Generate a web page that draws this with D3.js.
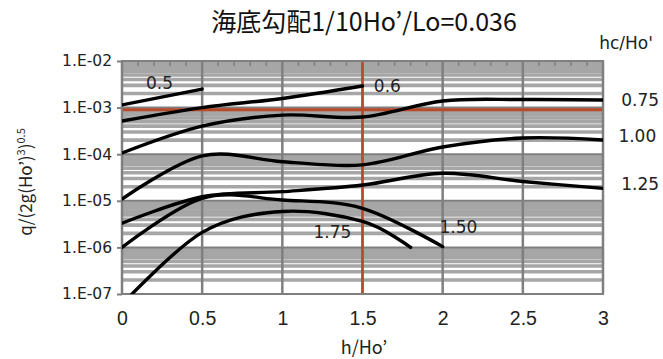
<!DOCTYPE html>
<html>
<head>
<meta charset="utf-8">
<script src="https://cdn.jsdelivr.net/npm/d3@7"></script>
<style>
  body { margin: 0; background: #fff; }
  svg { display: block; }
</style>
</head>
<body>
<svg id="MyGraph" width="663" height="359"></svg>
<script>
// x ticks (h/Ho') and y ticks (log scale)
var xTicks = [0, 0.5, 1, 1.5, 2, 2.5, 3];
var yTicks = [1e-2, 1e-3, 1e-4, 1e-5, 1e-6, 1e-7];
var yTickLabels = ["1.E-02", "1.E-03", "1.E-04", "1.E-05", "1.E-06", "1.E-07"];

// one array per hc/Ho' curve : [h/Ho', q/(2g(Ho')^3)^0.5]
var hc050 = [[0, 1.14e-3], [0.5, 2.5e-3]];
var hc060 = [[0, 5.15e-4], [0.5, 1.0e-3], [1, 1.57e-3], [1.5, 2.9e-3]];
var hc075 = [[0, 1.06e-4], [0.5, 4.0e-4], [1, 6.9e-4], [1.5, 6.3e-4], [2, 1.39e-3], [2.5, 1.49e-3], [3, 1.46e-3]];
var hc100 = [[0, 1.09e-5], [0.5, 9.2e-5], [1, 6.9e-5], [1.5, 5.9e-5], [2, 1.43e-4], [2.5, 2.23e-4], [3, 2.02e-4]];
var hc125 = [[0, 3.3e-6], [0.5, 1.22e-5], [1, 1.57e-5], [1.5, 2.18e-5], [2, 3.9e-5], [2.5, 2.6e-5], [3, 1.85e-5]];
var hc150 = [[0, 1.0e-6], [0.5, 1.13e-5], [1, 1.04e-5], [1.5, 6.9e-6], [2, 1.04e-6]];
var hc175 = [[0, 6e-8], [0.5, 2.1e-6], [1, 5.9e-6], [1.5, 3.6e-6], [1.8, 1.0e-6]];
var curves = [hc050, hc060, hc075, hc100, hc125, hc150, hc175];

// curve labels : [text, h/Ho', value]
var curveLabels = [["0.5", 0.234, 3.37e-3], ["0.6", 1.655, 2.91e-3], ["1.75", 1.312, 2.14e-6], ["1.50", 2.098, 2.74e-6]];
var sideLabels = [["0.75", 3.232, 1.46e-3], ["1.00", 3.214, 2.46e-4], ["1.25", 3.232, 2.29e-5]];

// reference lines (red)
var refX = 1.5;
var refY = 9e-4;

var svg = d3.select("#MyGraph");
var margin = {top: 61, right: 60, bottom: 65, left: 122},
    width = 663 - margin.left - margin.right,
    height = 359 - margin.top - margin.bottom,
    g = svg.append("g").attr("transform", "translate(" + margin.left + "," + margin.top + ")");

var x = d3.scaleLinear().domain([0, 3]).range([0, width]);
var y = d3.scaleLog().domain([1e-7, 1e-2]).range([height, 0]);

// minor gridlines, thick light gray
var minor = [];
yTicks.slice(1).forEach(function(d) {
  for (var k = 2; k <= 9; k++) minor.push(d * k);
});
g.append("g").selectAll("line")
    .data(minor)
    .enter().append("line")
    .attr("x1", 0).attr("x2", width)
    .attr("y1", function(d) { return y(d); })
    .attr("y2", function(d) { return y(d); })
    .attr("stroke", "#a6a6a6")
    .attr("stroke-width", 3.6);

// major gridlines
g.append("g").selectAll("line")
    .data(yTicks)
    .enter().append("line")
    .attr("x1", 0).attr("x2", width)
    .attr("y1", function(d) { return y(d); })
    .attr("y2", function(d) { return y(d); })
    .attr("stroke", "#7f7f7f")
    .attr("stroke-width", 2);

g.append("g").selectAll("line")
    .data(xTicks)
    .enter().append("line")
    .attr("x1", function(d) { return x(d); })
    .attr("x2", function(d) { return x(d); })
    .attr("y1", 0).attr("y2", height)
    .attr("stroke", "#7f7f7f")
    .attr("stroke-width", 2.5);

// minor ticks hanging from the top border
g.append("g").selectAll("line")
    .data(d3.range(0, 30).map(function(i) { return i / 10; }).filter(function(d, i) { return i % 5 !== 0; }))
    .enter().append("line")
    .attr("x1", function(d) { return x(d); })
    .attr("x2", function(d) { return x(d); })
    .attr("y1", 0).attr("y2", 5)
    .attr("stroke", "#7f7f7f")
    .attr("stroke-width", 1.5);

// red reference lines
g.append("line")
    .attr("x1", x(refX)).attr("x2", x(refX))
    .attr("y1", 0).attr("y2", height)
    .attr("stroke", "#b84a2a").attr("stroke-width", 2.5);
g.append("line")
    .attr("x1", 0).attr("x2", width)
    .attr("y1", y(refY)).attr("y2", y(refY))
    .attr("stroke", "#b84a2a").attr("stroke-width", 3);

// border
g.append("rect")
    .attr("width", width).attr("height", height)
    .attr("fill", "none")
    .attr("stroke", "#7f7f7f")
    .attr("stroke-width", 2);

// curves
svg.append("defs").append("clipPath").attr("id", "plotClip")
    .append("rect").attr("width", width).attr("height", height);

var line = d3.line()
    .x(function(d) { return x(d[0]); })
    .y(function(d) { return y(d[1]); })
    .curve(d3.curveCatmullRom.alpha(0));

g.append("g")
    .attr("clip-path", "url(#plotClip)")
    .selectAll("path")
    .data(curves)
    .enter().append("path")
    .attr("d", line)
    .attr("fill", "none")
    .attr("stroke", "#000")
    .attr("stroke-width", 3.4)
    .attr("stroke-linecap", "round");

// axes
var yAxis = g.append("g")
    .call(d3.axisLeft(y).tickValues(yTicks).tickSize(5).tickPadding(5)
      .tickFormat(function(d, i) { return yTickLabels[i]; }));
yAxis.select(".domain").remove();
yAxis.selectAll("line").attr("stroke", "#7f7f7f").attr("stroke-width", 2);
yAxis.selectAll("text")
    .attr("font-family", "DejaVu Sans")
    .attr("font-size", 15.5)
    .attr("fill", "#222");

var xAxis = g.append("g")
    .attr("transform", "translate(0," + height + ")")
    .call(d3.axisBottom(x).tickValues(xTicks).tickSize(0).tickPadding(17)
      .tickFormat(function(d) { return d; }));
xAxis.select(".domain").remove();
xAxis.selectAll("text")
    .attr("font-family", "Liberation Sans")
    .attr("font-size", 19.5)
    .attr("fill", "#222");

// labels on the curves
g.append("g").selectAll("text")
    .data(curveLabels.concat(sideLabels))
    .enter().append("text")
    .attr("x", function(d) { return x(d[1]); })
    .attr("y", function(d) { return y(d[2]); })
    .attr("dy", "0.36em")
    .attr("text-anchor", "middle")
    .attr("font-family", "DejaVu Sans")
    .attr("font-size", 17)
    .attr("fill", "#222")
    .text(function(d) { return d[0]; });

svg.append("text")
    .attr("x", 626).attr("y", 49)
    .attr("text-anchor", "middle")
    .attr("font-family", "DejaVu Sans")
    .attr("font-size", 17)
    .attr("fill", "#222")
    .text("hc/Ho'");

// titles
svg.append("text")
    .attr("x", 364).attr("y", 31)
    .attr("text-anchor", "middle")
    .attr("font-family", "Noto Sans CJK JP")
    .attr("font-size", 25)
    .attr("fill", "#111")
    .text("海底勾配1/10Ho’/Lo=0.036");

svg.append("text")
    .attr("x", 364).attr("y", 354)
    .attr("text-anchor", "middle")
    .attr("font-family", "Noto Sans CJK JP")
    .attr("font-size", 18)
    .attr("fill", "#222")
    .text("h/Ho’");

var yTitle = svg.append("text")
    .attr("transform", "translate(32,182) rotate(-90)")
    .attr("text-anchor", "middle")
    .attr("font-family", "Noto Sans CJK JP")
    .attr("font-size", 17)
    .attr("fill", "#222");
yTitle.append("tspan").text("q/(2g(Ho’)");
yTitle.append("tspan").attr("font-size", 11).attr("dy", -7).text("3");
yTitle.append("tspan").attr("dy", 7).text(")");
yTitle.append("tspan").attr("font-size", 11).attr("dy", -7).text("0.5");
</script>
</body>
</html>
